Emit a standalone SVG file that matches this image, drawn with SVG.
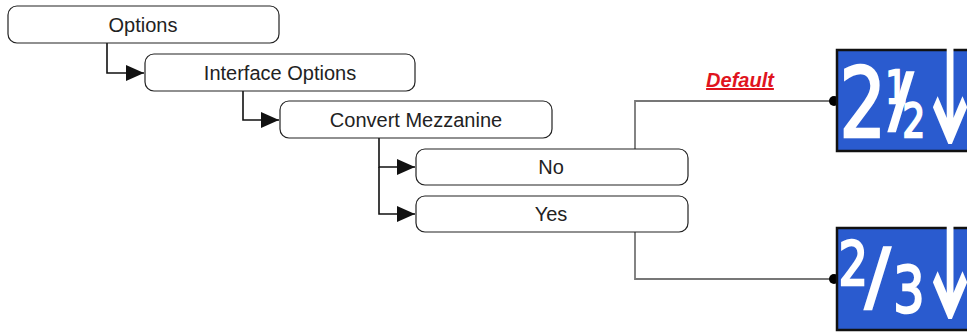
<svg xmlns="http://www.w3.org/2000/svg" width="967" height="332" viewBox="0 0 967 332">
<style>
.box{fill:#fff;stroke:#222;stroke-width:1.2}
.lbl{font-family:"Liberation Sans",Arial,sans-serif;font-size:20px;fill:#222;text-anchor:middle}
.con{fill:none;stroke:#111;stroke-width:1.6}
.gcon{fill:none;stroke:#777;stroke-width:1.8}
.icon{fill:#2a5bcf;stroke:#111;stroke-width:2.5}
.ig{font-family:"DejaVu Sans",sans-serif;font-weight:normal;fill:#fff;stroke:#fff;stroke-width:2.5}
.ar{font-family:"DejaVu Sans",sans-serif;fill:#fff;text-anchor:middle}
.def{font-family:"Liberation Sans",Arial,sans-serif;font-size:20px;font-weight:bold;font-style:italic;fill:#e0141e;text-decoration:underline;text-anchor:middle}
</style>
<defs>
<marker id="arr" markerWidth="20" markerHeight="16" refX="18" refY="8" orient="auto" markerUnits="userSpaceOnUse">
<path d="M0,0 L18,8 L0,16 Z" fill="#111"/>
</marker>
</defs>
<g id="connectors">
<path class="con" d="M107,43 V73 H144" marker-end="url(#arr)"/>
<path class="con" d="M243,91 V120 H279" marker-end="url(#arr)"/>
<path class="con" d="M379,138 V167 H415" marker-end="url(#arr)"/>
<path class="con" d="M379,167 V214 H415" marker-end="url(#arr)"/>
<path class="gcon" d="M635,149 V101 H834"/>
<circle cx="834" cy="101" r="5" fill="#000"/>
<path class="gcon" d="M635,232 V279 H834"/>
<circle cx="834" cy="279" r="5" fill="#000"/>
<text class="def" x="740" y="87">Default</text>
</g>
<g id="options"><rect class="box" x="8" y="6" width="271" height="37" rx="9"/><text class="lbl" x="143" y="32">Options</text></g>
<g id="interface-options"><rect class="box" x="145" y="54" width="270" height="37" rx="9"/><text class="lbl" x="280" y="80">Interface Options</text></g>
<g id="convert-mezzanine"><rect class="box" x="280" y="101" width="272" height="37" rx="9"/><text class="lbl" x="416" y="127">Convert Mezzanine</text></g>
<g id="no"><rect class="box" x="416" y="149" width="272" height="36" rx="9"/><text class="lbl" x="551" y="174">No</text></g>
<g id="yes"><rect class="box" x="416" y="196" width="272" height="36" rx="9"/><text class="lbl" x="551" y="221">Yes</text></g>
<g id="icon-2-5">
<rect class="icon" x="837" y="50" width="134" height="101"/>
<text class="ig" transform="scale(0.77,1)"><tspan x="1090" y="137" font-size="96">2</tspan><tspan x="1150" y="103" font-size="45">1</tspan><tspan x="1172" y="137" font-size="46">2</tspan></text>
<text class="ig" font-size="71" x="889" y="124">/</text>
<text class="ar" font-size="100" transform="translate(950,143) scale(0.8,1.9)">↓</text>
</g>
<g id="icon-2-3">
<rect class="icon" x="837" y="228" width="134" height="102"/>
<text class="ig" transform="scale(0.77,1)"><tspan x="1089" y="285" font-size="60">2</tspan><tspan x="1160" y="312" font-size="64">3</tspan></text>
<text class="ig" font-size="75" x="865" y="302">/</text>
<text class="ar" font-size="100" transform="translate(950,318) scale(0.8,1.9)">↓</text>
</g>
</svg>
